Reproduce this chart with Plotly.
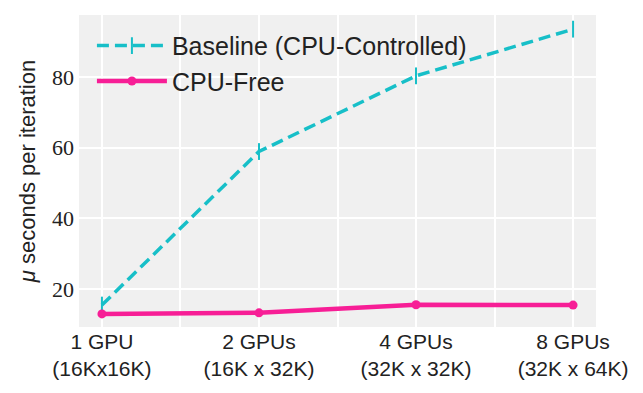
import plotly.graph_objects as go

categories = ["1 GPU<br>(16Kx16K)", "2 GPUs<br>(16K x 32K)", "4 GPUs<br>(32K x 32K)", "8 GPUs<br>(32K x 64K)"]
x_pos = [0, 1, 2, 3]
baseline = [15.5, 58.9, 80.3, 93.5]
cpu_free = [13.0, 13.3, 15.6, 15.5]
y_ticks = [20, 40, 60, 80]

teal = "#17BFC8"
pink = "#F71E96"

fig = go.Figure()
fig.add_trace(go.Scatter(
    x=x_pos, y=baseline, name="Baseline (CPU-Controlled)", mode="lines+markers",
    line=dict(color=teal, width=3.5, dash="12px,6px"),
    marker=dict(symbol="line-ns", size=12, line=dict(color=teal, width=2)),
))
fig.add_trace(go.Scatter(
    x=x_pos, y=cpu_free, name="CPU-Free", mode="lines+markers",
    line=dict(color=pink, width=4.5),
    marker=dict(symbol="circle", size=9, color=pink),
))

fig.update_layout(
    width=643, height=393,
    margin=dict(l=79, r=47, t=15, b=66, autoexpand=False),
    paper_bgcolor="white", plot_bgcolor="#F0F0F0",
    font=dict(family="Liberation Sans, Arial, sans-serif", color="#222222", size=20),
    legend=dict(x=0.025, y=0.975, xanchor="left", yanchor="top", itemwidth=70,
                bgcolor="rgba(0,0,0,0)", font=dict(size=25), tracegroupgap=0),
    showlegend=True,
)
fig.update_xaxes(
    range=[-0.146, 3.146], tickmode="array", tickvals=x_pos, ticktext=categories,
    showgrid=True, gridcolor="white", gridwidth=2, zeroline=False, automargin=False,
    tickfont=dict(size=21, color="#222222"), ticks="", showline=False,
    minor=dict(tickmode="array", tickvals=[-0.5, 0.5, 1.5, 2.5, 3.5], showgrid=True, gridcolor="white", gridwidth=2),
)
fig.update_yaxes(
    range=[9.3, 97.5], tickmode="array", tickvals=y_ticks, automargin=False,
    showgrid=True, gridcolor="white", gridwidth=2, zeroline=False,
    tickfont=dict(family="'Liberation Serif', 'Times New Roman', serif", size=22, color="#222222"),
    ticklabelstandoff=4,
    title=dict(text="<i>μ</i> seconds per iteration", font=dict(size=22), standoff=10),
    ticks="", showline=False,
)

fig.write_html("out.html", post_script="document.body.style.margin='0';",
               config={"displayModeBar": False})
